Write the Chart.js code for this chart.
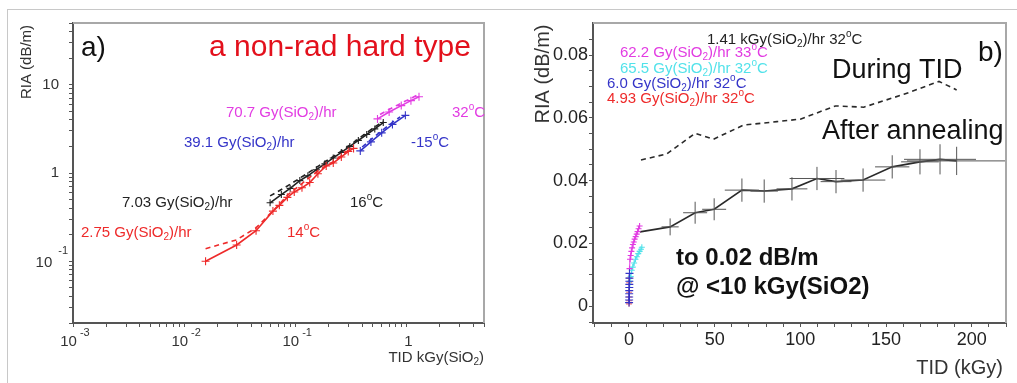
<!DOCTYPE html>
<html>
<head>
<meta charset="utf-8">
<script src="https://cdn.jsdelivr.net/npm/chart.js@4.4.1/dist/chart.umd.min.js"></script>
<style>
  html, body { margin: 0; padding: 0; background: #fff; }
  #page { position: relative; width: 1017px; height: 383px; overflow: hidden; background: #fff; }
  #frame { position: absolute; left: 7px; top: 9px; width: 1020px; height: 380px;
           border-top: 1px solid #c8c8c8; border-left: 1px solid #c8c8c8; }
  #ca { position: absolute; left: 0; top: 0; }
  #cb { position: absolute; left: 508px; top: 0; }
</style>
</head>
<body>
<div id="page">
  <div id="frame"></div>
  <canvas id="ca" width="508" height="383"></canvas>
  <canvas id="cb" width="509" height="383"></canvas>
</div>
<script>
const FONT = "'Liberation Sans', Arial, Helvetica, sans-serif";

// ---------- Panel a: RIA vs TID (log-log) ----------
const aRedX  = [0.0156, 0.0297, 0.0444, 0.063, 0.072, 0.085, 0.098, 0.115, 0.135, 0.16, 0.19, 0.22, 0.26, 0.30, 0.335];
const aRedY  = [0.100, 0.153, 0.222, 0.37, 0.43, 0.53, 0.61, 0.68, 0.78, 0.98, 1.20, 1.30, 1.52, 1.75, 1.90];
const aRedDashX = [0.0156, 0.0297, 0.0444, 0.068, 0.085, 0.115, 0.16, 0.22, 0.30];
const aRedDashY = [0.139, 0.175, 0.239, 0.41, 0.56, 0.76, 1.06, 1.34, 1.80];
const aBlackX = [0.0594, 0.075, 0.09, 0.11, 0.13, 0.155, 0.185, 0.22, 0.26, 0.31, 0.37, 0.44, 0.52, 0.62];
const aBlackY = [0.46, 0.57, 0.67, 0.82, 0.93, 1.09, 1.27, 1.48, 1.71, 2.00, 2.34, 2.73, 3.16, 3.73];
const aBlackDashX = [0.0594, 0.08, 0.119, 0.17, 0.24, 0.34, 0.48, 0.62];
const aBlackDashY = [0.55, 0.68, 0.93, 1.25, 1.65, 2.25, 3.10, 3.85];
const aBlueX = [0.385, 0.48, 0.60, 0.75, 0.98];
const aBlueY = [1.78, 2.25, 2.85, 3.55, 4.50];
const aBlueDashX = [0.40, 0.50, 0.62, 0.75, 0.88];
const aBlueDashY = [1.97, 2.50, 3.10, 3.75, 4.33];
const aMagX = [0.55, 0.70, 0.90, 1.10, 1.30];
const aMagY = [4.10, 4.90, 5.80, 6.60, 7.30];
const aMagDashX = [0.58, 0.75, 0.95, 1.15, 1.25];
const aMagDashY = [4.60, 5.50, 6.40, 7.20, 7.60];

const aXTickValues = [0.001, 0.01, 0.1, 1];
const aXTickLabels = ['10^{-3}', '10^{-2}', '10^{-1}', '1'];
const aYTickValues = [0.1, 1, 10];
const aYTickLabels = ['10^{-1}', '1', '10'];

// ---------- Panel b: RIA vs TID (linear) ----------
const bMagX = [0.3, 0.6, 1.0, 1.4, 1.8, 2.3, 2.8, 3.3, 3.9, 4.5, 5.0, 5.6, 6.2];
const bMagY = [0.0120, 0.0150, 0.0162, 0.0175, 0.0186, 0.0197, 0.0205, 0.0214, 0.0222, 0.0230, 0.0238, 0.0247, 0.0256];
const bCyanX = [0.2, 0.5, 1.0, 1.6, 2.2, 3.0, 3.8, 4.6, 5.4, 6.2, 7.0, 7.5];
const bCyanY = [0.0060, 0.0080, 0.0095, 0.0115, 0.0125, 0.0138, 0.0150, 0.0158, 0.0168, 0.0175, 0.0182, 0.0188];
const bBlueX = [0.05, 0.08, 0.10, 0.12, 0.15, 0.18, 0.20, 0.22, 0.25, 0.30];
const bBlueY = [0.0012, 0.0020, 0.0030, 0.0040, 0.0050, 0.0060, 0.0070, 0.0080, 0.0090, 0.0105];
const bRedX = [0.02, 0.04, 0.06, 0.08, 0.10, 0.12, 0.14];
const bRedY = [0.0008, 0.0018, 0.0030, 0.0045, 0.0060, 0.0075, 0.0090];
const bAnnealX    = [6.4, 24.0, 38.6, 49.7, 65.9, 78.9, 95.1, 109.7, 120.8, 136.6, 153.6, 169.8, 181.5, 191.2];
const bAnnealY    = [0.0237, 0.0253, 0.0298, 0.0309, 0.0370, 0.0367, 0.0374, 0.0407, 0.0397, 0.0402, 0.0444, 0.0460, 0.0468, 0.0463];
const bAnnealXErr = [0, 5, 7, 7, 10, 8, 9, 16, 9, 13, 10, 11, 21, 29];
const bAnnealYErr = [0, 0.0027, 0.0035, 0.0035, 0.0037, 0.0037, 0.0037, 0.0037, 0.0037, 0.0037, 0.0037, 0.0040, 0.0048, 0.0045];
const bTidX = [7, 22, 38.6, 49.3, 66.8, 86.3, 100, 120.5, 137, 160.4, 180.9, 191.2];
const bTidY = [0.0466, 0.0485, 0.0551, 0.0532, 0.0577, 0.0588, 0.0596, 0.0638, 0.0634, 0.0675, 0.0716, 0.0689];

const bXTickValues = [-20, -10, 0, 10, 20, 30, 40, 50, 60, 70, 80, 90, 100, 110, 120, 130, 140, 150, 160, 170, 180, 190, 200, 210, 220];
const bXTickLabels = { 0: '0', 50: '50', 100: '100', 150: '150', 200: '200' };
const bYTickValues = [-0.005, 0, 0.005, 0.01, 0.015, 0.02, 0.025, 0.03, 0.035, 0.04, 0.045, 0.05, 0.055, 0.06, 0.065, 0.07, 0.075, 0.08, 0.085];
const bYTickLabels = [[0, '0'], [0.02, '0.02'], [0.04, '0.04'], [0.06, '0.06'], [0.08, '0.08']];

// ---------- colours ----------
const RED = '#ee2a2a', MAG = '#e23ce2', BLUE = '#3434c8', CYAN = '#52e2ea', BLACK = '#222';

const pts = (xs, ys) => xs.map((x, i) => ({ x, y: ys[i] }));

// rich text: ^{..} superscript, _{..} subscript
function parseRich(s) {
  const out = []; const re = /([_^])\{([^}]*)\}/g; let last = 0, m;
  while ((m = re.exec(s))) {
    if (m.index > last) out.push({ k: 'n', t: s.slice(last, m.index) });
    out.push({ k: m[1] === '^' ? 'sup' : 'sub', t: m[2] });
    last = re.lastIndex;
  }
  if (last < s.length) out.push({ k: 'n', t: s.slice(last) });
  return out;
}
function drawRich(ctx, s, x, y, o) {
  const size = o.size || 15, wt = o.weight || 'normal';
  const segs = parseRich(s);
  const fontFor = k => `${wt} ${k === 'n' ? size : Math.round(size * (o.small || 0.68))}px ${FONT}`;
  let w = 0;
  segs.forEach(g => {
    ctx.font = fontFor(g.k);
    g.gap = (g.k === 'sup' && o.supGap) ? o.supGap : 0;
    g.w = ctx.measureText(g.t).width + g.gap;
    w += g.w;
  });
  let cx = o.align === 'center' ? x - w / 2 : o.align === 'right' ? x - w : x;
  ctx.fillStyle = o.color || BLACK;
  ctx.textBaseline = 'middle';
  ctx.textAlign = 'left';
  segs.forEach(g => {
    ctx.font = fontFor(g.k);
    let dy = 0;
    if (g.k === 'sup') dy = -size * (o.supRise || 0.42);
    else if (g.k === 'sub') dy = size * 0.3;
    ctx.fillText(g.t, cx + g.gap, y + dy);
    cx += g.w;
  });
}
function drawFrame(ctx, ca) {
  ctx.save();
  ctx.strokeStyle = '#a8a8a8';
  ctx.lineWidth = 2;
  ctx.beginPath();
  ctx.moveTo(ca.left, ca.top);
  ctx.lineTo(ca.right, ca.top);
  ctx.lineTo(ca.right, ca.bottom);
  ctx.stroke();
  ctx.restore();
}
function drawVTitle(ctx, text, x, y, size) {
  ctx.save();
  ctx.translate(x, y);
  ctx.rotate(-Math.PI / 2);
  drawRich(ctx, text, 0, 0, { size, align: 'center', color: '#333' });
  ctx.restore();
}

const axisGrid = { drawOnChartArea: false, drawTicks: true, tickLength: 4, color: '#555', lineWidth: 1 };
const axisBorder = { color: '#555', width: 2 };

// ---------- Panel a chart ----------
const aNotes = [
  { t: 'a)', x: 81, y: 48, size: 28, color: '#111' },
  { t: 'a non-rad hard type', x: 209, y: 48, size: 30, color: '#e3101c' },
  { t: '70.7 Gy(SiO_{2})/hr', x: 226, y: 113, size: 15, color: MAG },
  { t: '32^{o}C', x: 452, y: 113, size: 15, color: MAG },
  { t: '39.1 Gy(SiO_{2})/hr', x: 184, y: 143, size: 15, color: BLUE },
  { t: '-15^{o}C', x: 411, y: 143, size: 15, color: BLUE },
  { t: '7.03 Gy(SiO_{2})/hr', x: 122, y: 203, size: 15, color: '#222' },
  { t: '16^{o}C', x: 350, y: 203, size: 15, color: '#222' },
  { t: '2.75 Gy(SiO_{2})/hr', x: 81, y: 233, size: 15, color: RED },
  { t: '14^{o}C', x: 287, y: 233, size: 15, color: RED }
];

const decorA = {
  id: 'decorA',
  afterDraw(chart) {
    const ctx = chart.ctx, ca = chart.chartArea, sx = chart.scales.x, sy = chart.scales.y;
    drawFrame(ctx, ca);
    ctx.save();
    aXTickValues.forEach((v, i) => {
      drawRich(ctx, aXTickLabels[i], sx.getPixelForValue(v) + 2, ca.bottom + 19,
        { size: 15, align: 'center', color: '#333', supRise: 0.62, supGap: 3, small: 0.72 });
    });
    aYTickValues.forEach((v, i) => {
      const lab = aYTickLabels[i];
      const hasSup = lab.indexOf('^') >= 0;
      drawRich(ctx, lab, ca.left - (hasSup ? 5 : 14), sy.getPixelForValue(v) + (hasSup ? 2 : 0),
        { size: 15, align: 'right', color: '#333', supRise: 0.85, supGap: 6, small: 0.72 });
    });
    drawVTitle(ctx, 'RIA (dB/m)', 27, 62, 15);
    drawRich(ctx, 'TID kGy(SiO_{2})', ca.right, 358, { size: 15, align: 'right', color: '#333' });
    aNotes.forEach(n => drawRich(ctx, n.t, n.x, n.y, { size: n.size, color: n.color, supRise: 0.4 }));
    ctx.restore();
  }
};

const lineSet = (label, xs, ys, color, opts) => Object.assign({
  label, data: pts(xs, ys), showLine: true, borderColor: color, backgroundColor: color,
  borderWidth: 1.6, pointStyle: 'cross', pointRadius: 4, pointBorderWidth: 1.1,
  pointBorderColor: color, tension: 0
}, opts || {});

new Chart(document.getElementById('ca'), {
  type: 'scatter',
  data: {
    datasets: [
      lineSet('2.75 Gy(SiO2)/hr', aRedX, aRedY, RED),
      lineSet('2.75 Gy(SiO2)/hr dashed', aRedDashX, aRedDashY, RED, { borderDash: [5, 4], pointRadius: 0 }),
      lineSet('7.03 Gy(SiO2)/hr', aBlackX, aBlackY, BLACK, { pointRadius: 3.5 }),
      lineSet('7.03 Gy(SiO2)/hr dashed', aBlackDashX, aBlackDashY, BLACK, { borderDash: [5, 4], pointRadius: 0 }),
      lineSet('39.1 Gy(SiO2)/hr', aBlueX, aBlueY, BLUE),
      lineSet('39.1 Gy(SiO2)/hr dashed', aBlueDashX, aBlueDashY, BLUE, { borderDash: [5, 4], pointRadius: 0 }),
      lineSet('70.7 Gy(SiO2)/hr', aMagX, aMagY, MAG),
      lineSet('70.7 Gy(SiO2)/hr dashed', aMagDashX, aMagDashY, MAG, { borderDash: [5, 4], pointRadius: 0 })
    ]
  },
  options: {
    responsive: false,
    animation: false,
    layout: { padding: { top: 23, right: 24, left: 0, bottom: 0 } },
    plugins: { legend: { display: false }, tooltip: { enabled: false } },
    scales: {
      x: {
        type: 'logarithmic', min: 0.001, max: 5,
        afterFit(s) { s.height = 60; },
        afterBuildTicks(s) {
          const t = [];
          [0.001, 0.01, 0.1, 1].forEach(d => [1, 2, 3, 4, 5, 6, 7, 8, 9].forEach(k => { if (d * k <= 5) t.push({ value: d * k }); }));
          s.ticks = t;
        },
        ticks: { display: false },
        grid: axisGrid, border: axisBorder
      },
      y: {
        type: 'logarithmic', min: 0.02, max: 50,
        afterFit(s) { s.width = 73; },
        afterBuildTicks(s) {
          const t = [];
          [0.01, 0.1, 1, 10].forEach(d => [1, 2, 3, 4, 5, 6, 7, 8, 9].forEach(k => { const v = d * k; if (v >= 0.02 && v <= 50) t.push({ value: v }); }));
          s.ticks = t;
        },
        ticks: { display: false },
        grid: axisGrid, border: axisBorder
      }
    }
  },
  plugins: [decorA]
});

// ---------- Panel b chart ----------
const bNotes = [
  { t: '1.41 kGy(SiO_{2})/hr 32^{o}C', x: 199, y: 40, size: 15, color: '#222' },
  { t: '62.2 Gy(SiO_{2})/hr 33^{o}C', x: 112, y: 53, size: 15, color: MAG },
  { t: '65.5 Gy(SiO_{2})/hr 32^{o}C', x: 112, y: 69, size: 15, color: CYAN },
  { t: '6.0 Gy(SiO_{2})/hr 32^{o}C', x: 99, y: 84, size: 15, color: BLUE },
  { t: '4.93 Gy(SiO_{2})/hr 32^{o}C', x: 99, y: 99, size: 15, color: RED },
  { t: 'b)', x: 470, y: 53, size: 28, color: '#111' },
  { t: 'During TID', x: 324, y: 71, size: 27, color: '#111' },
  { t: 'After annealing', x: 314, y: 132, size: 27, color: '#111' },
  { t: 'to 0.02 dB/m', x: 168, y: 258, size: 24, color: '#111', weight: 'bold' },
  { t: '@ <10 kGy(SiO2)', x: 168, y: 287, size: 24, color: '#111', weight: 'bold' }
];

const errorBars = {
  id: 'errorBars',
  afterDatasetsDraw(chart) {
    const ctx = chart.ctx, sx = chart.scales.x, sy = chart.scales.y, ca = chart.chartArea;
    ctx.save();
    ctx.beginPath();
    ctx.rect(ca.left, ca.top, ca.right - ca.left, ca.bottom - ca.top);
    ctx.clip();
    chart.data.datasets.forEach(ds => {
      if (!ds.errX) return;
      ctx.strokeStyle = ds.errColor;
      ctx.lineWidth = 1;
      ds.data.forEach((p, i) => {
        const px = sx.getPixelForValue(p.x), py = sy.getPixelForValue(p.y);
        if (ds.errX[i]) {
          ctx.beginPath();
          ctx.moveTo(sx.getPixelForValue(p.x - ds.errX[i]), py);
          ctx.lineTo(sx.getPixelForValue(p.x + ds.errX[i]), py);
          ctx.stroke();
        }
        if (ds.errY[i]) {
          ctx.beginPath();
          ctx.moveTo(px, sy.getPixelForValue(p.y - ds.errY[i]));
          ctx.lineTo(px, sy.getPixelForValue(p.y + ds.errY[i]));
          ctx.stroke();
        }
      });
    });
    ctx.restore();
  }
};

const decorB = {
  id: 'decorB',
  afterDraw(chart) {
    const ctx = chart.ctx, ca = chart.chartArea;
    drawFrame(ctx, ca);
    ctx.save();
    drawVTitle(ctx, 'RIA (dB/m)', 35, 74, 20);
    drawRich(ctx, 'TID (kGy)', ca.right - 3, 368, { size: 20, align: 'right', color: '#333' });
    bNotes.forEach(n => drawRich(ctx, n.t, n.x, n.y, { size: n.size, color: n.color, weight: n.weight, supRise: 0.4 }));
    ctx.restore();
  }
};

const yLabelFor = v => {
  const hit = bYTickLabels.find(p => Math.abs(p[0] - v) < 1e-9);
  return hit ? hit[1] : '';
};

new Chart(document.getElementById('cb'), {
  type: 'scatter',
  data: {
    datasets: [
      lineSet('6.0 Gy(SiO2)/hr 32C', bBlueX, bBlueY, BLUE, { borderWidth: 1, pointRadius: 4 }),
      lineSet('62.2 Gy(SiO2)/hr 33C', bMagX, bMagY, MAG, { borderWidth: 1, pointRadius: 3 }),
      lineSet('65.5 Gy(SiO2)/hr 32C', bCyanX, bCyanY, CYAN, { borderWidth: 1, pointRadius: 3 }),
      lineSet('4.93 Gy(SiO2)/hr 32C', bRedX, bRedY, '#f07070', { borderWidth: 1, pointRadius: 3 }),
      lineSet('After annealing', bAnnealX, bAnnealY, '#2a2a2a', {
        pointRadius: 0, borderWidth: 1.6,
        errX: bAnnealXErr, errY: bAnnealYErr, errColor: '#555'
      }),
      lineSet('During TID', bTidX, bTidY, '#2a2a2a', { pointRadius: 0, borderWidth: 1.6, borderDash: [5, 4] })
    ]
  },
  options: {
    responsive: false,
    animation: false,
    layout: { padding: { top: 23, right: 11, left: 0, bottom: 0 } },
    plugins: { legend: { display: false }, tooltip: { enabled: false } },
    scales: {
      x: {
        type: 'linear', min: -21, max: 220,
        afterFit(s) { s.height = 60; },
        afterBuildTicks(s) { s.ticks = bXTickValues.map(v => ({ value: v })); },
        ticks: {
          autoSkip: false, maxRotation: 0, padding: 2, color: '#222',
          font: { family: FONT, size: 18 },
          callback: v => (bXTickLabels[v] !== undefined ? bXTickLabels[v] : '')
        },
        grid: axisGrid, border: axisBorder
      },
      y: {
        type: 'linear', min: -0.0053, max: 0.0902,
        afterFit(s) { s.width = 85; },
        afterBuildTicks(s) { s.ticks = bYTickValues.map(v => ({ value: v })); },
        ticks: {
          autoSkip: false, padding: 1, color: '#222',
          font: { family: FONT, size: 18 },
          callback: v => yLabelFor(v)
        },
        grid: axisGrid, border: axisBorder
      }
    }
  },
  plugins: [errorBars, decorB]
});
</script>
</body>
</html>
